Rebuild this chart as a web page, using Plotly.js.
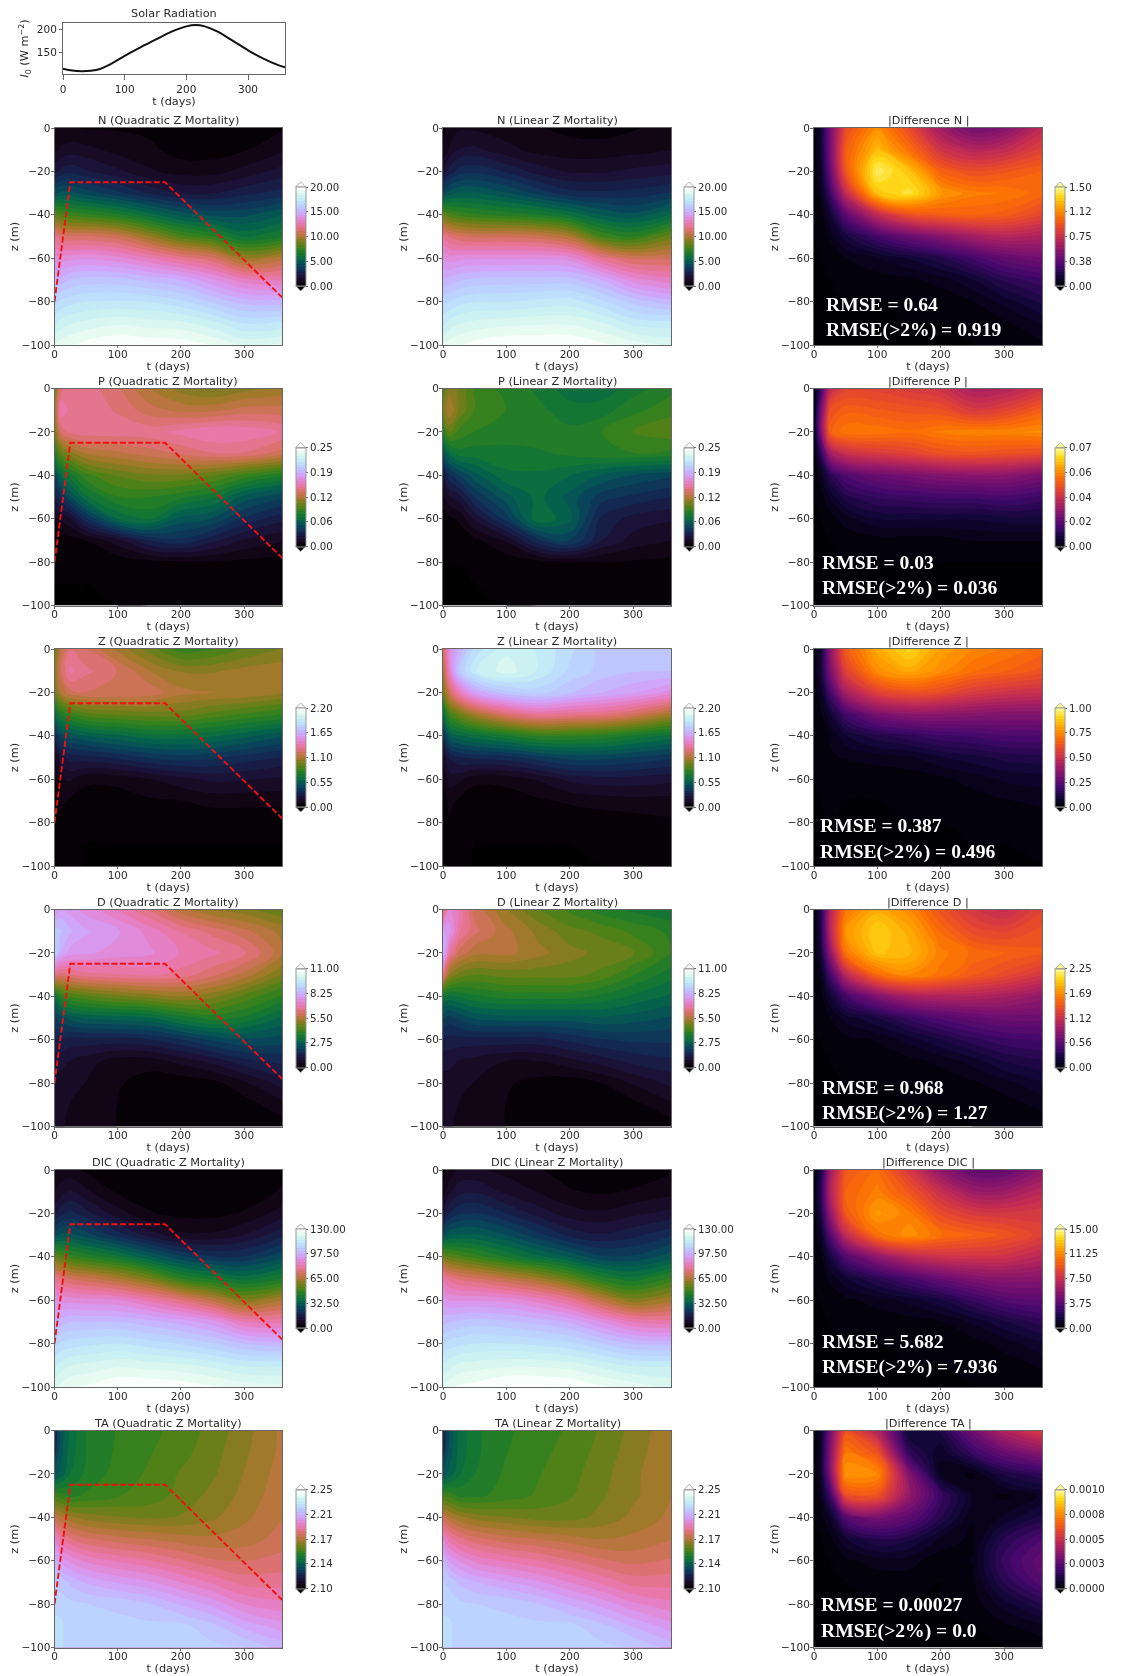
<!DOCTYPE html>
<html>
<head>
<meta charset="utf-8">
<script src="https://cdn.plot.ly/plotly-3.0.1.min.js"></script>
<style>html,body{margin:0;padding:0;background:#fff}#chart{width:1124px;height:1676px;filter:blur(0.35px)}</style>
</head>
<body>
<div id="chart"></div>
<script>
const solarDays=[0,15,30,45,60,80,100,125,150,175,200,215,230,250,275,300,325,345,360];
const solarFlux=[115,111,109.5,110.5,114.5,127,143,161,178,195,207,210,207,196,176,155,137,125,118];
const mldDays=[0,25,175,360];
const mldDepth=[-80,-25,-25,-78];
const days=[0,10,25,50,100,150,200,250,300,360];
const depths=[0,-10,-20,-30,-40,-50,-60,-70,-80,-90,-100];

const N_quad=[
[0.6,0.6,0.6,0.5,0.5,0.4,0.1,0.1,0.2,0.5],
[1.0,1.2,1.4,1.3,0.9,0.7,0.3,0.3,0.5,1.0],
[2.0,2.4,2.6,2.3,1.8,1.2,0.9,0.9,1.3,1.9],
[4.3,4.6,4.6,4.2,3.5,2.7,2.2,2.2,2.6,3.0],
[8.4,8.0,7.6,7.4,6.8,5.8,4.8,4.3,4.3,5.0],
[11.8,11.4,11.2,11.2,10.8,9.5,8.0,7.2,6.0,6.6],
[13.5,13.6,13.7,13.8,13.5,12.8,12.0,11.3,9.5,10.3],
[15.2,15.2,15.6,15.8,15.8,15.4,15.0,14.0,13.0,12.7],
[16.5,16.8,17.0,17.2,17.3,17.2,16.8,16.0,15.3,15.2],
[17.6,18.0,18.3,18.5,18.8,18.6,18.5,18.0,17.2,17.4],
[18.9,19.2,19.4,19.7,20.0,19.9,19.8,19.4,18.8,19.0]];
const N_lin=[
[0.4,0.7,1.0,1.0,0.8,0.6,0.4,0.3,0.5,0.8],
[0.7,1.2,1.7,1.8,1.3,0.9,0.8,0.8,0.9,1.1],
[1.7,2.5,3.0,3.2,2.7,2.0,1.6,1.6,1.8,2.0],
[4.0,4.7,5.0,5.0,4.5,3.7,3.0,2.9,3.0,3.4],
[8.6,8.0,7.6,7.3,7.0,6.7,6.0,5.0,4.6,5.6],
[12.2,11.6,11.2,11.0,11.0,10.8,10.0,7.8,7.2,8.6],
[13.8,13.6,13.7,13.8,13.8,13.8,13.6,12.0,11.0,11.0],
[15.0,15.2,15.5,15.7,15.8,15.8,15.8,15.0,13.6,13.0],
[16.5,16.7,17.0,17.2,17.2,17.4,17.5,16.8,15.9,15.2],
[17.6,18.0,18.3,18.5,18.7,18.8,18.8,18.4,17.6,17.5],
[18.9,19.2,19.4,19.7,20.0,20.0,20.0,19.6,19.2,18.8]];
const N_diff=[
[0.02,0.10,0.45,0.90,1.15,0.90,0.60,0.45,0.50,0.72],
[0.02,0.10,0.45,0.98,1.28,1.05,0.78,0.68,0.72,0.85],
[0.02,0.08,0.40,0.95,1.45,1.30,1.00,0.92,0.95,1.00],
[0.01,0.05,0.28,0.72,1.30,1.40,1.18,1.10,1.08,1.02],
[0.005,0.02,0.12,0.38,0.72,0.92,0.98,1.00,0.98,0.88],
[0,0.01,0.05,0.15,0.30,0.42,0.52,0.62,0.68,0.65],
[0,0,0.01,0.04,0.08,0.13,0.20,0.30,0.40,0.45],
[0,0,0,0.01,0.02,0.03,0.06,0.12,0.22,0.28],
[0,0,0,0,0,0.01,0.01,0.04,0.10,0.18],
[0,0,0,0,0,0,0,0.01,0.03,0.09],
[0,0,0,0,0,0,0,0,0.01,0.03]];

const P_quad=[
[.11,.145,.15,.15,.14,.125,.115,.11,.115,.12],
[.12,.16,.15,.15,.145,.135,.13,.13,.135,.135],
[.11,.14,.148,.15,.15,.15,.155,.16,.158,.152],
[.085,.105,.115,.125,.13,.135,.14,.145,.145,.135],
[.05,.07,.08,.095,.105,.11,.11,.105,.095,.085],
[.03,.04,.055,.075,.09,.09,.085,.078,.06,.05],
[.012,.015,.02,.04,.07,.078,.06,.055,.04,.03],
[.003,.004,.004,.007,.018,.035,.04,.03,.02,.015],
[.001,.001,.001,.001,.002,.004,.006,.006,.005,.004],
[0,0,0,0,.001,.001,.001,.001,.001,.001],
[0,0,0,0,0,0,0,0,0,0]];
const P_lin=[
[.10,.115,.11,.095,.088,.082,.072,.072,.08,.088],
[.11,.125,.11,.097,.09,.085,.08,.08,.088,.095],
[.09,.105,.095,.09,.088,.088,.085,.09,.098,.102],
[.055,.07,.08,.08,.08,.082,.085,.088,.09,.088],
[.025,.04,.048,.06,.075,.075,.07,.062,.055,.05],
[.012,.02,.025,.042,.06,.072,.06,.045,.04,.035],
[.003,.005,.008,.022,.045,.075,.065,.033,.025,.022],
[.001,.002,.003,.005,.015,.04,.05,.028,.018,.014],
[0,0,0,.001,.002,.004,.007,.007,.006,.005],
[0,0,0,0,.001,.001,.001,.001,.001,.001],
[0,0,0,0,0,0,0,0,0,0]];
const P_diff=[
[.001,.012,.034,.04,.04,.038,.036,.03,.031,.036],
[.002,.02,.043,.046,.045,.044,.043,.038,.04,.046],
[.002,.022,.046,.05,.05,.049,.051,.052,.052,.053],
[.001,.01,.028,.035,.038,.04,.043,.044,.043,.042],
[0,.003,.01,.016,.02,.022,.024,.025,.025,.022],
[0,.001,.004,.009,.012,.013,.014,.014,.015,.013],
[0,0,.001,.003,.006,.006,.006,.006,.007,.007],
[0,0,0,.0005,.001,.001,.001,.002,.002,.002],
[0,0,0,0,0,0,0,0,0,0],
[0,0,0,0,0,0,0,0,0,0],
[0,0,0,0,0,0,0,0,0,0]];

const Z_quad=[
[.95,1.15,1.28,1.22,1.08,.95,.82,.85,.92,.98],
[1.0,1.22,1.36,1.3,1.22,1.1,1.03,1.03,1.06,1.08],
[.95,1.1,1.2,1.22,1.22,1.2,1.12,1.1,1.1,1.05],
[.62,.75,.82,.9,.93,.95,.95,.9,.85,.8],
[.3,.45,.5,.55,.6,.65,.65,.62,.57,.5],
[.12,.22,.27,.28,.32,.37,.4,.38,.34,.3],
[.06,.12,.13,.08,.08,.12,.16,.2,.19,.17],
[.03,.07,.05,.02,.03,.05,.06,.08,.08,.08],
[.02,.05,.02,.01,.01,.01,.01,.02,.02,.02],
[.015,.04,.01,0,0,0,0,0,0,0],
[.01,.03,.01,0,0,0,0,0,0,0]];
const Z_lin=[
[1.2,1.5,1.65,1.85,2.0,1.95,1.85,1.75,1.72,1.72],
[1.1,1.45,1.75,1.95,2.05,1.95,1.82,1.75,1.72,1.72],
[.95,1.2,1.4,1.6,1.75,1.8,1.72,1.65,1.6,1.5],
[.62,.85,.95,1.08,1.25,1.35,1.32,1.3,1.22,1.08],
[.35,.55,.6,.65,.72,.8,.8,.78,.72,.65],
[.15,.25,.3,.32,.34,.4,.45,.45,.42,.38],
[.07,.15,.14,.08,.08,.13,.2,.22,.22,.2],
[.03,.08,.05,.02,.03,.05,.07,.09,.1,.1],
[.02,.05,.02,.01,.01,.01,.02,.02,.03,.05],
[.015,.04,.01,0,0,0,0,.01,.01,.02],
[.01,.03,.01,0,0,0,0,0,0,.01]];
const Z_diff=[
[.02,.06,.35,.65,.82,.9,.8,.75,.72,.68],
[.02,.08,.32,.57,.76,.82,.76,.7,.67,.63],
[.01,.05,.2,.42,.57,.62,.6,.55,.52,.5],
[0,.02,.08,.2,.32,.36,.36,.35,.34,.34],
[0,.01,.03,.08,.13,.16,.19,.2,.22,.22],
[0,.005,.025,.03,.04,.05,.08,.1,.12,.13],
[0,.003,.015,.005,.006,.01,.02,.04,.06,.07],
[0,0,.002,0,0,.001,.004,.012,.025,.035],
[0,0,0,0,0,0,0,.001,.004,.01],
[0,0,0,0,0,0,0,0,0,.002],
[0,0,0,0,0,0,0,0,0,0]];

const D_quad=[
[7.5,8,7.8,7.5,7,6.4,5.6,5.2,5,4.6],
[8.8,8.6,8.3,8,7.7,7.2,6.7,6.3,5.9,5.4],
[9,8.2,7.8,7.7,7.5,7.4,7,6.8,6.5,5.6],
[6.5,6.3,6.4,6.6,6.7,6.8,6.6,6.2,5.7,4.9],
[3.2,3.9,4.3,4.5,4.8,5,5.2,5,4.5,3.9],
[2.1,2.3,2.6,2.8,2.9,3,3.5,3.8,3.6,3.0],
[1.5,1.5,1.4,1.4,1.4,1.5,1.8,2.2,2.4,2.3],
[1.0,1.0,.9,.75,.45,.45,.7,1.0,1.4,1.6],
[.8,.8,.7,.6,.35,.15,.1,.2,.55,1.05],
[.65,.7,.6,.5,.3,.1,.05,.05,.15,.5],
[.6,.65,.55,.45,.3,.1,.05,.03,.05,.15]];
const D_lin=[
[6,7.4,7,6,5.2,4.6,4.2,3.8,3.6,3.4],
[8,7.8,6.8,6.2,5.6,5.1,4.7,4.5,4.2,3.9],
[8.4,6.8,6,5.6,5.6,5.3,5,4.8,4.6,4],
[6.6,5.2,4.8,4.6,4.7,4.7,4.7,4.5,4,3.5],
[3.4,3.3,3.4,3.6,3.8,3.8,3.8,3.6,3.3,3],
[2.2,2,2.2,2.5,2.6,2.6,2.6,2.7,2.6,2.4],
[1.5,1.4,1.4,1.4,1.4,1.4,1.6,1.8,1.9,1.9],
[1.0,1.0,.9,.8,.6,.6,.8,1.05,1.3,1.45],
[.8,.8,.7,.6,.35,.2,.12,.3,.65,1.0],
[.65,.7,.6,.5,.3,.1,.05,.08,.2,.55],
[.6,.65,.55,.45,.3,.1,.05,.04,.06,.15]];
const D_diff=[
[.02,.25,1.0,1.6,1.85,1.7,1.4,1.2,1.1,1.3],
[.02,.25,1.0,1.75,2.0,1.85,1.55,1.35,1.3,1.4],
[.02,.18,.8,1.6,1.95,1.9,1.65,1.55,1.5,1.45],
[.01,.08,.45,1.05,1.55,1.7,1.6,1.45,1.35,1.2],
[0,.03,.18,.45,.75,.95,1.0,1.0,.95,.85],
[0,.01,.06,.15,.25,.4,.52,.6,.65,.65],
[0,0,.02,.04,.07,.15,.25,.35,.42,.45],
[0,0,0,.01,.02,.04,.08,.15,.25,.3],
[0,0,0,0,0,.01,.02,.05,.1,.18],
[0,0,0,0,0,0,0,.01,.03,.08],
[0,0,0,0,0,0,0,0,.01,.02]];

const DIC_quad=[
[5,5,5,3,1,.5,.5,.5,1,3],
[7,9,11,8,3,1.5,1,1,1.5,4],
[13,17,19,16,9,4,2.5,2.5,4,9],
[27,30,30,27,20,13,8,8,11,17],
[56,53,49,46,41,33,26,22,22,28],
[78,75,72,70,65,58,47,42,38,43],
[90,89,89,88,87,82,76,68,59,65],
[98,99,101,101,101,99,96,92,83,82],
[107,109,110,111,112,110,108,105,101,99],
[115,117,119,120,122,121,120,118,115,115],
[122,124,126,127,130,130,129,127,125,124]];
const DIC_lin=[
[2,5,8,8,6,4,2,1,1.5,3],
[5,10,13,14,10,7,4,3,4,6],
[12,18,21,22,18,13,9,8,10,12],
[28,32,33,33,29,23,17,15,17,21],
[58,54,52,49,43,37,32,26,26,31],
[82,78,75,73,68,63,55,45,41,48],
[92,90,90,90,89,85,79,68,59,64],
[100,101,102,103,102,100,97,90,83,81],
[108,110,111,112,112,111,109,105,101,100],
[116,118,120,121,122,122,121,118,115,115],
[123,125,127,128,131,131,130,127,125,122]];
const DIC_diff=[
[.1,1.5,6,9.5,10.5,8,5.5,4,4,5.5],
[.2,2,6.5,10,11,9.5,7.5,6,6,7],
[.2,1.5,5.5,9.6,11.8,11,9,8.2,8,8.2],
[.1,.8,3.5,7.2,10.5,11.5,10.5,10,9.5,8.5],
[0,.3,1.5,3.5,5.5,7,7.7,7.8,7.7,7],
[0,.1,.5,1.2,2.2,3.2,4.2,5,5.3,5.2],
[0,0,.1,.3,.6,1,1.6,2.6,3.5,3.8],
[0,0,0,.05,.1,.2,.4,.9,1.6,2.3],
[0,0,0,0,0,.02,.05,.2,.6,1.2],
[0,0,0,0,0,0,0,.02,.15,.5],
[0,0,0,0,0,0,0,0,.05,.15]];

const TA_quad=[
[2.125,2.135,2.143,2.150,2.1545,2.157,2.160,2.164,2.169,2.176],
[2.127,2.136,2.144,2.150,2.155,2.158,2.161,2.165,2.170,2.176],
[2.135,2.139,2.146,2.151,2.156,2.159,2.163,2.166,2.171,2.177],
[2.157,2.156,2.153,2.155,2.158,2.160,2.164,2.168,2.172,2.178],
[2.180,2.176,2.172,2.169,2.167,2.166,2.167,2.170,2.174,2.179],
[2.2,2.193,2.188,2.184,2.181,2.179,2.177,2.176,2.177,2.181],
[2.215,2.207,2.203,2.199,2.195,2.192,2.188,2.184,2.183,2.185],
[2.221,2.219,2.216,2.212,2.208,2.205,2.2,2.195,2.19,2.19],
[2.224,2.223,2.222,2.221,2.22,2.217,2.212,2.207,2.2,2.197],
[2.226,2.226,2.222,2.222,2.222,2.222,2.222,2.218,2.211,2.206],
[2.226,2.226,2.222,2.222,2.222,2.222,2.222,2.222,2.221,2.215]];
const TA_lin=[
[2.125,2.133,2.143,2.149,2.1535,2.156,2.159,2.163,2.168,2.174],
[2.127,2.135,2.143,2.149,2.154,2.157,2.16,2.164,2.169,2.174],
[2.135,2.139,2.145,2.15,2.155,2.158,2.161,2.165,2.17,2.174],
[2.157,2.157,2.153,2.153,2.156,2.159,2.162,2.166,2.17,2.175],
[2.181,2.176,2.172,2.169,2.167,2.165,2.165,2.168,2.172,2.176],
[2.2,2.194,2.189,2.185,2.181,2.179,2.177,2.175,2.176,2.179],
[2.215,2.208,2.204,2.199,2.195,2.192,2.188,2.184,2.182,2.184],
[2.221,2.22,2.216,2.213,2.209,2.205,2.2,2.195,2.19,2.19],
[2.224,2.223,2.222,2.221,2.22,2.217,2.212,2.207,2.201,2.197],
[2.226,2.226,2.222,2.222,2.222,2.222,2.222,2.218,2.212,2.206],
[2.226,2.226,2.222,2.222,2.222,2.222,2.222,2.222,2.221,2.215]];
const TA_diff=[
[0,.00005,.0003,.00062,.00045,.00008,.00012,.0003,.00045,.00056],
[0,.00006,.00033,.00072,.00062,.00016,.00006,.00018,.00028,.00036],
[0,.00006,.00032,.00078,.00076,.00034,.00005,.00002,.00012,.00016],
[0,.00004,.00018,.0006,.00062,.00038,.00018,.00005,.00002,.00006],
[0,.00001,.00006,.00024,.00032,.00026,.00014,.00003,.00006,.00012],
[0,0,.00002,.00008,.00014,.00012,.00005,.00002,.00014,.00022],
[0,0,0,.00002,.00004,.00004,.00001,.00003,.00018,.00027],
[0,0,0,0,.00001,.00001,0,.00002,.00014,.00024],
[0,0,0,0,0,0,0,.00001,.00007,.00014],
[0,0,0,0,0,0,0,0,.00002,.00005],
[0,0,0,0,0,0,0,0,0,.00001]];

const varNames=['N','P','Z','D','DIC','TA'];
const quadFields=[N_quad,P_quad,Z_quad,D_quad,DIC_quad,TA_quad];
const linFields=[N_lin,P_lin,Z_lin,D_lin,DIC_lin,TA_lin];
const diffFields=[N_diff,P_diff,Z_diff,D_diff,DIC_diff,TA_diff];
const fieldRanges=[[0,20],[0,.25],[0,2.2],[0,11],[0,130],[2.10,2.25]];
const diffRanges=[[0,1.5],[0,.07],[0,1],[0,2.25],[0,15],[0,.001]];
const fieldTicks=[
['0.00','5.00','10.00','15.00','20.00'],
['0.00','0.06','0.12','0.19','0.25'],
['0.00','0.55','1.10','1.65','2.20'],
['0.00','2.75','5.50','8.25','11.00'],
['0.00','32.50','65.00','97.50','130.00'],
['2.10','2.14','2.17','2.21','2.25']];
const diffTicks=[
['0.00','0.38','0.75','1.12','1.50'],
['0.00','0.02','0.04','0.06','0.07'],
['0.00','0.25','0.50','0.75','1.00'],
['0.00','0.56','1.12','1.69','2.25'],
['0.00','3.75','7.50','11.25','15.00'],
['0.0000','0.0003','0.0005','0.0008','0.0010']];
const rmseLabels=[
['RMSE = 0.64','RMSE(>2%) = 0.919'],
['RMSE = 0.03','RMSE(>2%) = 0.036'],
['RMSE = 0.387','RMSE(>2%) = 0.496'],
['RMSE = 0.968','RMSE(>2%) = 1.27'],
['RMSE = 5.682','RMSE(>2%) = 7.936'],
['RMSE = 0.00027','RMSE(>2%) = 0.0']];
const rmsePos=[[824,304,330],[820.2,562,587.6],[818,826,851.5],[820.2,1087,1112.5],[820.2,1341,1366.5],[819.2,1604,1631]];

const W=1124,H=1676;
const colL=[54.5,443,814],colW=[227.5,228,228],barL=[295.7,684.3,1055.3];
const rowT=[128,388.5,649,909.5,1170,1430.5],rowH=217;
const FONT='"DejaVu Sans", sans-serif',TXT='#2a2a2a';
const px=v=>v/W, py=v=>1-v/H;

function cubehelix(n){
  const out=[];
  for(let i=0;i<=n;i++){
    const l=i/n,a=1.4*l*(1-l)/2,p=2*Math.PI*(0.5/3+1-1.5*l);
    const c=Math.cos(p),s=Math.sin(p);
    const ch=v=>Math.round(255*Math.min(1,Math.max(0,v)));
    out.push([l,`rgb(${ch(l+a*(-0.14861*c+1.78277*s))},${ch(l+a*(-0.29227*c-0.90649*s))},${ch(l+a*1.97294*c)})`]);
  }
  return out;
}
const helixScale=cubehelix(32);
const infernoStops=['#000004','#14063a','#42086a','#700f70','#9c1c66','#c82f50','#e84a2a','#fb6f05','#ffa000','#ffd515','#fdfb90'];
const infernoScale=infernoStops.map((c,i)=>[i/10,c]);

const layout={width:W,height:H,paper_bgcolor:'#fff',plot_bgcolor:'#fff',showlegend:false,
  margin:{l:0,r:0,t:0,b:0,autoexpand:false},font:{family:FONT,size:10.5,color:TXT},annotations:[],shapes:[]};
const traces=[];

function axes(idx,x0,w,y0,h,xr,yr,xt,yt,ytitle,xlen,xshift,yshift,ystand){
  const common={showgrid:false,zeroline:false,showline:true,mirror:true,linecolor:'#666',linewidth:1,
    ticks:'outside',tickwidth:0.8,tickcolor:'#444',tickfont:{family:FONT,size:10.5,color:TXT}};
  layout['xaxis'+idx]=Object.assign({},common,{domain:[px(x0),px(x0+w)],range:xr,tickvals:xt,anchor:'y'+idx,ticklen:xlen,ticklabelstandoff:xshift,
    title:{text:'t (days)',standoff:0,font:{family:FONT,size:11.3,color:TXT}}});
  layout['yaxis'+idx]=Object.assign({},common,{domain:[py(y0+h),py(y0)],range:yr,tickvals:yt,anchor:'x'+idx,ticklen:3,ticklabelstandoff:yshift,
    title:{text:ytitle,standoff:ystand,font:{family:FONT,size:11.3,color:TXT}}});
}
function label(text,x,y,xanchor,size,color,family){
  layout.annotations.push({xref:'paper',yref:'paper',x:px(x),y:py(y),text,showarrow:false,xanchor,yanchor:'middle',
    font:{family:family||FONT,size:size||11.3,color:color||TXT}});
}

axes(1,63,222,23,51,[0,360],[103.6,214.3],[0,100,200,300],[150,200],'<i>I</i><sub>0</sub> (W m<sup>−2</sup>)',5,0,0,5);
label('Solar Radiation',174,13,'center');
traces.push({type:'scatter',mode:'lines',x:solarDays,y:solarFlux,xaxis:'x1',yaxis:'y1',
  line:{color:'#111',width:2,shape:'spline',smoothing:1},hoverinfo:'skip'});

let ax=2;
varNames.forEach((nm,r)=>{
  const fields=[quadFields[r],linFields[r],diffFields[r]];
  const ranges=[fieldRanges[r],fieldRanges[r],diffRanges[r]];
  const ticks=[fieldTicks[r],fieldTicks[r],diffTicks[r]];
  const titles=[nm+' (Quadratic Z Mortality)',nm+' (Linear Z Mortality)','|Difference '+nm+' |'];
  for(let c=0;c<3;c++){
    const [lo,hi]=ranges[c];
    const x0=colL[c],w=colW[c],y0=rowT[r];
    axes(ax,x0,w,y0,rowH,[0,360],[-100,0],[0,100,200,300],[-100,-80,-60,-40,-20,0],'z (m)',2,-3,-2,0);
    label(titles[c],x0+w/2,y0-7.5,'center');
    const barMid=y0+rowH/2,barTop=barMid-49.5,barBot=barMid+49.5,bl=barL[c];
    const step=(hi-lo)/4;
    traces.push({type:'contour',x:days,y:depths,z:fields[c],xaxis:'x'+ax,yaxis:'y'+ax,
      colorscale:c===2?infernoScale:helixScale,zauto:false,zmin:lo,zmax:hi,autocontour:false,
      contours:{coloring:'fill',showlines:false,start:lo,end:hi,size:(hi-lo)/36},
      line:{width:0,smoothing:1.2},hoverinfo:'skip',
      colorbar:{thicknessmode:'pixels',thickness:10,lenmode:'pixels',len:99,x:px(bl),xanchor:'left',xpad:0,
        y:py(barMid),yanchor:'middle',ypad:0,outlinewidth:1,outlinecolor:'#999',borderwidth:0,
        tickmode:'array',tickvals:[0,1,2,3,4].map(i=>lo+i*step),ticktext:ticks[c],ticks:'outside',ticklen:2,tickwidth:0.8,
        tickcolor:'#444',tickfont:{family:FONT,size:10.2,color:TXT}}});
    const topCol=c===2?'#fdfb90':'#ffffff',botCol=c===2?'#000004':'#000000';
    const tri=(yb,yt,col)=>layout.shapes.push({type:'path',xref:'paper',yref:'paper',layer:'above',
      path:`M ${px(bl)},${py(yb)} L ${px(bl+10)},${py(yb)} L ${px(bl+5)},${py(yt)} Z`,fillcolor:col,line:{color:'#999',width:0.8}});
    tri(barTop,barTop-5,topCol);
    tri(barBot,barBot+5,botCol);
    if(c===0){
      traces.push({type:'scatter',mode:'lines',x:mldDays,y:mldDepth,xaxis:'x'+ax,yaxis:'y'+ax,
        line:{color:'#f01010',width:1.9,dash:'6px,2.5px'},hoverinfo:'skip'});
    }
    if(c===2){
      const [lx,y1,y2]=rmsePos[r];
      label('<b>'+rmseLabels[r][0].replace('>','&gt;')+'</b>',lx,y1,'left',19.6,'#fff','"Liberation Serif", serif');
      label('<b>'+rmseLabels[r][1].replace('>','&gt;')+'</b>',lx,y2,'left',19.6,'#fff','"Liberation Serif", serif');
    }
    ax++;
  }
});
Plotly.newPlot('chart',traces,layout,{staticPlot:true,displayModeBar:false});
</script>
</body>
</html>
